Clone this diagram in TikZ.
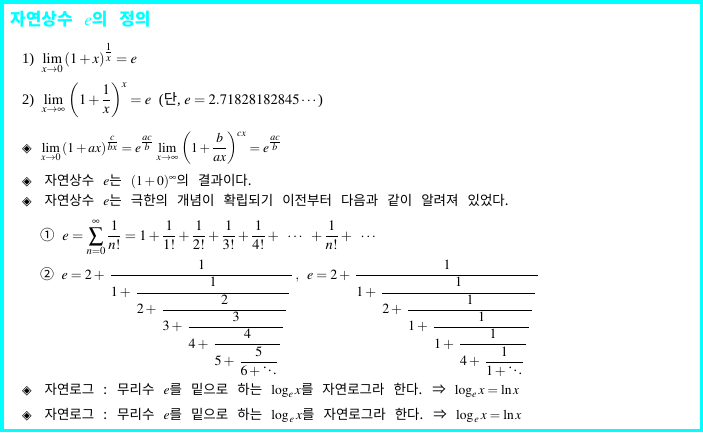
\documentclass[tikz,border=0pt]{standalone}
\usepackage{amsmath}
\usepackage{mathptmx}
\usepackage{fontspec}
\setmainfont{Liberation Serif}
\newfontfamily\kr[WordSpace=3.0]{Noto Sans CJK KR}
\newfontfamily\sym{DejaVu Sans}
\usetikzlibrary{positioning}

\definecolor{framecyan}{RGB}{0,255,255}
\newcommand{\bul}{{\sym\fontsize{12.5}{13}\selectfont ◈}}
\newcommand{\pl}{+\mkern1.5mu}
% continued fraction level, right ends stepping left
\newcommand{\cf}[2]{{\displaystyle\frac{\strut#1}{#2}}}
\newcommand{\dd}{\smash[t]{\ddots}}
% exponent fraction
\newcommand{\ex}[2]{\genfrac{}{}{}{1}{#1}{#2}}

\tikzset{
  mathline/.style={anchor=base west,inner sep=0pt,font=\fontsize{14.5}{14}\selectfont},
  propline/.style={anchor=base west,inner sep=0pt,font=\fontsize{13.5}{14}\selectfont},
  fracline/.style={anchor=base west,inner sep=0pt,font=\fontsize{14}{12}\selectfont},
  textline/.style={anchor=base west,inner sep=0pt,font=\fontsize{13.5}{15}\selectfont\kr},
  title/.style={anchor=base west,inner sep=0pt,text=framecyan,font=\fontsize{17}{20}\selectfont\kr\bfseries}
}

\begin{document}
\begin{tikzpicture}[x=1pt,y=-1pt]
\useasboundingbox (0,0) rectangle (703,432);
\draw[framecyan,line width=3.5pt] (1.75,1.75) rectangle (701.25,430.25);

\node[title] (title) at (10,25) {자연상수 $e$의 정의};

% definitions
\node[mathline] (def1) at (22,63) {1)\; $\displaystyle\lim_{x\to0}\,(1+x)^{\ex{1}{x}}=e$};
\node[mathline] (def2) at (22,104) {2)\; $\displaystyle\lim_{x\to\infty}\,\left(1+\frac{1}{x}\right)^{x}=e$\; ({\kr 단}, $e=2.71828182845\cdots$)};

% properties
\node[propline] (prop1) at (22,152) {\bul\;\, $\displaystyle\lim_{x\to0}\,(1+ax)^{\ex{c}{bx}}=e^{\ex{ac}{b}}\,\lim_{x\to\infty}\,\left(1+\frac{b}{ax}\right)^{cx}=e^{\ex{ac}{b}}$};
\node[textline] (prop2) at (22,185) {\bul\; 자연상수 $e$는 $(1+0)^{\infty}$의 결과이다.};
\node[textline] (prop3) at (22,205) {\bul\; 자연상수 $e$는 극한의 개념이 확립되기 이전부터 다음과 같이 알려져 있었다.};

% series and continued fractions
\node[mathline] (ser1) at (40,240) {{\kr ①}\; $\displaystyle e=\sum_{n=0}^{\infty}\frac{1}{n!}=1+\frac{1}{1!}+\frac{1}{2!}+\frac{1}{3!}+\frac{1}{4!}+\;\;\cdots\;\;+\frac{1}{n!}+\;\;\cdots$};
\node[fracline] (ser2) at (40,279) {{\kr ②}\; \nulldelimiterspace=3pt $\displaystyle e=2\pl\cf{1}{1\pl\cf{1}{2\pl\cf{2}{3\pl\cf{3}{4\pl\cf{4}{5\pl\cf{5}{6+\dd}}}}}},\;\;
e=2\pl\cf{1}{1\pl\cf{1}{2\pl\cf{1}{1\pl\cf{1}{1\pl\cf{1}{4\pl\cf{1}{1+\dd}}}}}}$};

% natural logarithm
\node[textline] (log1) at (22,394) {\bul\; 자연로그 : 무리수 $e$를 밑으로 하는 $\log_{e}x$를 자연로그라 한다. ⇒ $\log_{e}x=\ln x$};
\node[textline] (log2) at (22,419) {\bul\; 자연로그 : 무리수 $e$를 밑으로 하는 $\log_{\,e}x$를 자연로그라 한다. ⇒ $\log_{\,e}x=\ln x$};
\end{tikzpicture}
\end{document}
